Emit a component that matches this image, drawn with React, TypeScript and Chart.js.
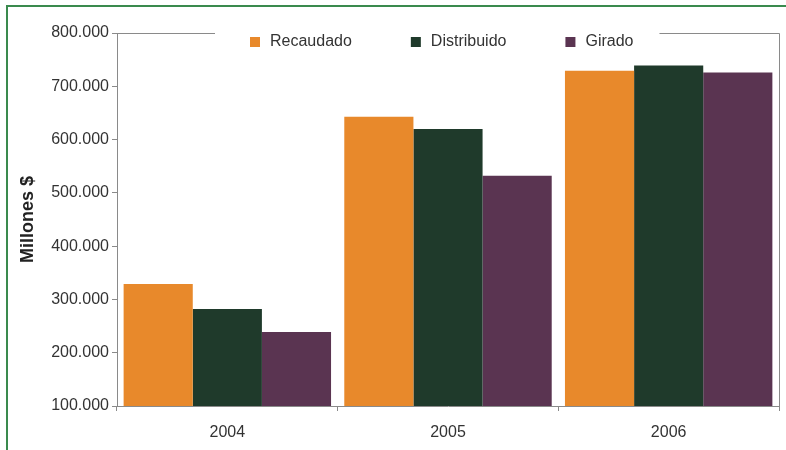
import React, { useEffect, useRef } from 'react';
import { Chart, registerables } from 'chart.js';

Chart.register(...registerables);

// Data (millions of $)
const years = ['2004', '2005', '2006'];
const recaudado = [329000, 643000, 729000];
const distribuido = [282000, 620000, 739000];
const girado = [239000, 532000, 726000];
const seriesNames = ['Recaudado', 'Distribuido', 'Girado'];
const seriesColors = ['#E8892B', '#1F3A2B', '#5A3451'];
const yMin = 100000;
const yMax = 800000;
const yStep = 100000;
const yTitle = 'Millones $';

const FONT = '"Liberation Sans", Arial, Helvetica, sans-serif';
const AXIS = '#8a8a8a';
const TEXT = '#333333';

function formatThousands(v: number): string {
  return String(Math.round(v)).replace(/\B(?=(\d{3})+(?!\d))/g, '.');
}

// Legend inside the plot box plus the top/right box lines, which are
// interrupted behind the legend.
const boxLegend = {
  id: 'boxLegend',
  afterDraw(chart: any) {
    const { ctx, chartArea: a } = chart;
    ctx.save();
    ctx.font = `16px ${FONT}`;
    ctx.textBaseline = 'middle';
    ctx.textAlign = 'left';
    const sw = 10;
    const gapText = 10;
    const gapItem = 59;
    const startX = a.left + 133;
    const y = a.top + 9;
    let x = startX;
    chart.data.datasets.forEach((ds: any) => {
      ctx.fillStyle = ds.backgroundColor;
      ctx.fillRect(x, y - 5, sw, sw);
      x += sw + gapText;
      ctx.fillStyle = TEXT;
      ctx.fillText(ds.label, x, y);
      x += ctx.measureText(ds.label).width + gapItem;
    });
    const endX = x - gapItem;

    ctx.strokeStyle = AXIS;
    ctx.lineWidth = 1;
    const top = Math.round(a.top) + 0.5;
    const right = Math.round(a.right) + 0.5;
    ctx.beginPath();
    ctx.moveTo(a.left, top);
    ctx.lineTo(startX - 35, top);
    ctx.moveTo(endX + 26, top);
    ctx.lineTo(right, top);
    ctx.lineTo(right, a.bottom);
    ctx.stroke();
    ctx.restore();
  },
};

export default function App() {
  const canvasRef = useRef<HTMLCanvasElement | null>(null);

  useEffect(() => {
    if (!canvasRef.current) return;
    const seriesData = [recaudado, distribuido, girado];
    const chart = new Chart(canvasRef.current, {
      type: 'bar',
      data: {
        labels: years,
        datasets: seriesNames.map((name, i) => ({
          label: name,
          data: seriesData[i],
          backgroundColor: seriesColors[i],
          borderWidth: 0,
          categoryPercentage: 0.94,
          barPercentage: 1.0,
        })),
      },
      options: {
        responsive: false,
        animation: false,
        layout: { padding: { left: 0, top: 33, right: 7, bottom: 0 } },
        plugins: {
          legend: { display: false },
          tooltip: { enabled: false },
        },
        scales: {
          x: {
            afterFit: (s: any) => {
              s.height = 44;
            },
            grid: {
              offset: true,
              drawOnChartArea: false,
              drawTicks: true,
              tickLength: 5,
              color: AXIS,
            },
            border: { display: true, color: AXIS },
            ticks: {
              padding: 12,
              color: TEXT,
              font: { family: FONT, size: 16 },
            },
          },
          y: {
            min: yMin,
            max: yMax,
            afterFit: (s: any) => {
              s.width = 117;
            },
            grid: {
              drawOnChartArea: false,
              drawTicks: true,
              tickLength: 5,
              color: AXIS,
            },
            border: { display: true, color: AXIS },
            ticks: {
              stepSize: yStep,
              padding: 3,
              color: TEXT,
              font: { family: FONT, size: 16 },
              callback: (v: any) => formatThousands(Number(v)),
            },
            title: {
              display: true,
              text: yTitle,
              color: '#222222',
              font: { family: FONT, size: 18, weight: 'bold' },
              padding: { top: 17, bottom: 0 },
            },
          },
        },
      },
      plugins: [boxLegend],
    });
    return () => chart.destroy();
  }, []);

  return (
    <div
      style={{
        position: 'absolute',
        left: 0,
        top: 0,
        width: 786,
        height: 450,
        overflow: 'hidden',
        background: '#ffffff',
      }}
    >
      <div
        style={{
          position: 'absolute',
          left: 6,
          top: 5,
          width: 900,
          height: 600,
          border: '2px solid #3a8a4e',
        }}
      />
      <canvas
        ref={canvasRef}
        width={786}
        height={450}
        style={{ position: 'absolute', left: 0, top: 0, display: 'block' }}
      />
    </div>
  );
}
